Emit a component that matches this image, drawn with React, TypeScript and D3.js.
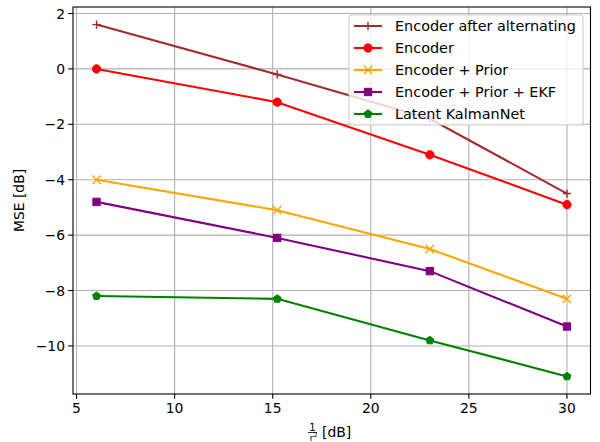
import React from "react";
import * as d3 from "d3";

const xValues = [6.02, 15.23, 23.01, 30];
const seriesNames = [
  "Encoder after alternating",
  "Encoder",
  "Encoder + Prior",
  "Encoder + Prior + EKF",
  "Latent KalmanNet",
];
const alternating = [1.6, -0.2, -1.8, -4.5];
const encoder = [0.0, -1.2, -3.1, -4.9];
const encoderPrior = [-4.0, -5.1, -6.5, -8.3];
const encoderPriorEkf = [-4.8, -6.1, -7.3, -9.3];
const latentKalmanNet = [-8.2, -8.3, -9.8, -11.1];
const xTicks = [5, 10, 15, 20, 25, 30];
const yTicks = [2, 0, -2, -4, -6, -8, -10];

const colors = ["#a52a2a", "#ff0000", "#ffa500", "#800080", "#008000"];
const markers = ["plus", "circle", "x", "square", "pentagon"];

const L = 73, R = 590.5, T = 7, B = 394;
const FONT = "DejaVu Sans, sans-serif";

function Marker({ type, x, y, color }: { type: string; x: number; y: number; color: string }) {
  const s = 8.33;
  const h = s / 2;
  if (type === "plus")
    return <path d={`M${x - h},${y}H${x + h}M${x},${y - h}V${y + h}`} stroke={color} strokeWidth={1.4} fill="none" />;
  if (type === "x")
    return <path d={`M${x - h},${y - h}L${x + h},${y + h}M${x - h},${y + h}L${x + h},${y - h}`} stroke={color} strokeWidth={1.4} fill="none" />;
  if (type === "circle") return <circle cx={x} cy={y} r={h} fill={color} stroke={color} strokeWidth={1} />;
  if (type === "square") return <rect x={x - h + 0.5} y={y - h + 0.5} width={s - 1} height={s - 1} fill={color} stroke={color} strokeWidth={1} />;
  const pts = d3.range(5).map((i) => {
    const a = -Math.PI / 2 + (i * 2 * Math.PI) / 5;
    return `${x + h * Math.cos(a)},${y + h * Math.sin(a)}`;
  });
  return <polygon points={pts.join(" ")} fill={color} stroke={color} strokeWidth={1} />;
}

export default function App() {
  const x = d3.scaleLinear().domain([4.82, 31.2]).range([L, R]);
  const y = d3.scaleLinear().domain([-11.735, 2.235]).range([B, T]);
  const series = [alternating, encoder, encoderPrior, encoderPriorEkf, latentKalmanNet];
  const line = d3
    .line<number>()
    .x((_, i) => x(xValues[i]))
    .y((d) => y(d));
  const fmt = (v: number) => (v < 0 ? "\u2212" + Math.abs(v) : String(v));

  const legX = 349, legY = 15, legW = 234, legH = 110, rowH = 22;

  return (
    <svg width={600} height={442} style={{ position: "absolute", left: 0, top: 0 }} fontFamily={FONT}>
      <rect width={600} height={442} fill="white" />
      {xTicks.map((t) => (
        <line key={"gx" + t} x1={x(t)} x2={x(t)} y1={T} y2={B} stroke="#b0b0b0" strokeWidth={1.1} />
      ))}
      {yTicks.map((t) => (
        <line key={"gy" + t} x1={L} x2={R} y1={y(t)} y2={y(t)} stroke="#b0b0b0" strokeWidth={1.1} />
      ))}
      {series.map((s, k) => (
        <g key={k}>
          <path d={line(s) || ""} fill="none" stroke={colors[k]} strokeWidth={2.08} />
          {s.map((v, i) => (
            <Marker key={i} type={markers[k]} x={x(xValues[i])} y={y(v)} color={colors[k]} />
          ))}
        </g>
      ))}
      <rect x={L} y={T} width={R - L} height={B - T} fill="none" stroke="black" strokeWidth={1.1} />
      {xTicks.map((t) => (
        <g key={"xt" + t}>
          <line x1={x(t)} x2={x(t)} y1={B} y2={B + 4.86} stroke="black" strokeWidth={1.1} />
          <text x={x(t)} y={B + 19} fontSize={13.9} textAnchor="middle" fill="black">
            {fmt(t)}
          </text>
        </g>
      ))}
      {yTicks.map((t) => (
        <g key={"yt" + t}>
          <line x1={L - 4.86} x2={L} y1={y(t)} y2={y(t)} stroke="black" strokeWidth={1.1} />
          <text x={L - 8} y={y(t) + 5} fontSize={13.9} textAnchor="end" fill="black">
            {fmt(t)}
          </text>
        </g>
      ))}
      <text transform={`translate(24,${(T + B) / 2}) rotate(-90)`} fontSize={13.9} textAnchor="middle" fill="black">
        MSE [dB]
      </text>
      <g fill="black">
        <text x={312.5} y={430.5} fontSize={10} textAnchor="middle">1</text>
        <line x1={308} x2={317} y1={432.5} y2={432.5} stroke="black" strokeWidth={0.8} />
        <text x={311.5} y={440.5} fontSize={9} textAnchor="middle">r</text>
        <text x={315.5} y={437} fontSize={6.5} textAnchor="middle">2</text>
        <text x={322} y={437} fontSize={13.9} textAnchor="start">[dB]</text>
      </g>
      <rect x={legX} y={legY} width={legW} height={legH} rx={3} fill="white" fillOpacity={0.8} stroke="#cccccc" strokeWidth={1.1} />
      {seriesNames.map((name, k) => {
        const cy = legY + 11 + k * rowH;
        return (
          <g key={name}>
            <line x1={354} x2={382} y1={cy} y2={cy} stroke={colors[k]} strokeWidth={2.08} />
            <Marker type={markers[k]} x={368} y={cy} color={colors[k]} />
            <text x={395} y={cy + 5} fontSize={14.4} fill="black">
              {name}
            </text>
          </g>
        );
      })}
    </svg>
  );
}
